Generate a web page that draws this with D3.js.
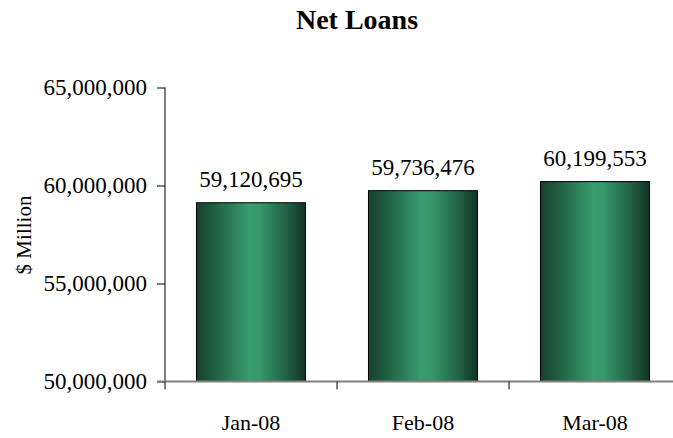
<!DOCTYPE html>
<html>
<head>
<meta charset="utf-8">
<script src="https://cdn.jsdelivr.net/npm/d3@7"></script>
<style>
  html, body { margin: 0; padding: 0; background: #fff; }
  svg { display: block; font-family: "Liberation Serif", "Times New Roman", serif; }
</style>
</head>
<body>
<svg id="chart" width="673" height="438"></svg>
<script>
// Monthly net loans
const months = ["Jan-08", "Feb-08", "Mar-08"];
const netLoans = [59120695, 59736476, 60199553];
const yTicks = [50000000, 55000000, 60000000, 65000000];

const svg = d3.select("#chart");
const plotLeft = 165, plotRight = 681, plotTop = 87.5, plotBottom = 381.5;

const x = d3.scaleBand().domain(months).range([plotLeft, plotRight])
  .paddingInner(0.366).paddingOuter(0.183);
const y = d3.scaleLinear().domain([50000000, 65000000]).range([plotBottom, plotTop]);
const fmt = d3.format(",");

// Horizontal shading for the bars
const grad = svg.append("defs").append("linearGradient")
  .attr("id", "barShade").attr("x1", "0%").attr("x2", "100%").attr("y1", "0%").attr("y2", "0%");
[["0%", "#173f2c"], ["22%", "#24694a"], ["48%", "#379c6e"], ["58%", "#36986b"], ["82%", "#226246"], ["100%", "#123424"]]
  .forEach(([o, c]) => grad.append("stop").attr("offset", o).attr("stop-color", c));

// Title
svg.append("text").attr("x", 357).attr("y", 29).attr("text-anchor", "middle")
  .attr("font-size", 28).attr("font-weight", "bold").attr("fill", "#000").text("Net Loans");

// Y axis
const yAxis = svg.append("g").attr("transform", `translate(${plotLeft},0)`)
  .call(d3.axisLeft(y).tickValues(yTicks).tickFormat(fmt).tickSize(8).tickPadding(10));
yAxis.select(".domain").attr("stroke", "#000").attr("d", `M0,${plotTop}V${plotBottom}`);
yAxis.selectAll(".tick line").attr("stroke", "#000");
yAxis.selectAll(".tick text").attr("font-size", 23).attr("fill", "#000")
  .attr("font-family", "Liberation Serif, serif");

// Axis title
svg.append("text").attr("transform", "translate(31,235) rotate(-90)")
  .attr("text-anchor", "middle").attr("font-size", 21).attr("fill", "#000").text("$ Million");

// Bars
svg.append("g").selectAll("rect").data(months).join("rect")
  .attr("x", d => x(d)).attr("width", x.bandwidth())
  .attr("y", (d, i) => y(netLoans[i])).attr("height", (d, i) => plotBottom - y(netLoans[i]))
  .attr("fill", "url(#barShade)").attr("stroke", "#000").attr("stroke-width", 1);

// Value labels
svg.append("g").selectAll("text").data(months).join("text")
  .attr("x", d => x(d) + x.bandwidth() / 2).attr("y", (d, i) => y(netLoans[i]) - 16)
  .attr("text-anchor", "middle").attr("font-size", 23).attr("fill", "#000")
  .text((d, i) => fmt(netLoans[i]));

// X axis with ticks on category boundaries
const xAxisG = svg.append("g");
xAxisG.append("line").attr("x1", plotLeft - 8).attr("x2", plotRight).attr("y1", plotBottom).attr("y2", plotBottom)
  .attr("stroke", "#808080").attr("stroke-width", 2);
const edges = [plotLeft].concat(months.map((m, i) => plotLeft + x.step() * (i + 1)));
xAxisG.selectAll("line.tk").data(edges).join("line").attr("class", "tk")
  .attr("x1", d => d).attr("x2", d => d).attr("y1", plotBottom).attr("y2", plotBottom + 8)
  .attr("stroke", "#000").attr("stroke-width", 1);
xAxisG.selectAll("text").data(months).join("text")
  .attr("x", d => x(d) + x.bandwidth() / 2).attr("y", 430)
  .attr("text-anchor", "middle").attr("font-size", 22).attr("fill", "#000").text(d => d);
</script>
</body>
</html>
